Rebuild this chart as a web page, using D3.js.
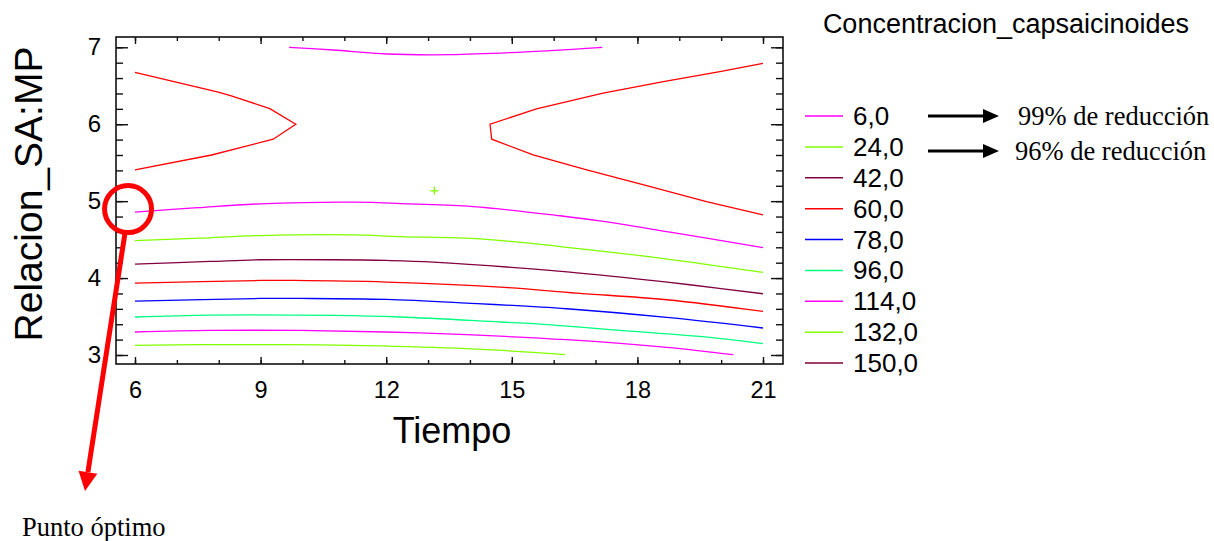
<!DOCTYPE html>
<html>
<head>
<meta charset="utf-8">
<script src="https://cdn.jsdelivr.net/npm/d3@7"></script>
<style>
  html, body { margin: 0; padding: 0; background: #fff; }
  svg { display: block; }
  text { font-family: "Liberation Sans", Arial, sans-serif; fill: #000; }
  .serif { font-family: "Liberation Serif", "Times New Roman", serif; }
</style>
</head>
<body>
<svg id="chart" width="1214" height="541"></svg>
<script>
// ---------------- DATA ----------------
const xTicksMajor = [6, 9, 12, 15, 18, 21];
const yTicksMajor = [3, 4, 5, 6, 7];
const legendLevels = ["6,0", "24,0", "42,0", "60,0", "78,0", "96,0", "114,0", "132,0", "150,0"];
const levelColors = ["#ff00ff", "#80ff00", "#800040", "#ff0000", "#0000ff", "#00ff80", "#ff00ff", "#80ff00", "#800040"];

// contour lines [Tiempo, Relacion_SA:MP]
const contourTop = [[9.68,7.0],[10.73,6.965],[12.02,6.913],[13.52,6.904],[14.96,6.93],[17.16,7.0]];
const chevronLeft = [[6,6.675],[7.99,6.416],[8.3,6.37],[9.22,6.203],[9.84,6.0],[9.3,5.805],[7.83,5.60],[6,5.406]];
const chevronRight = [[21,6.792],[19.97,6.683],[18.62,6.553],[17.18,6.403],[15.59,6.199],[14.48,6.0],[14.52,5.805],[15.51,5.601],[16.79,5.406],[18.22,5.203],[19.65,4.995],[21,4.822]];
const contour6 = [[6,4.857],[7.5,4.915],[8.99,4.965],[11.21,4.987],[12.57,4.965],[14.08,4.93],[16.15,4.81],[17.1,4.744],[18.78,4.597],[21,4.397]];
const contour24 = [[6,4.488],[7.55,4.519],[8.99,4.553],[11.21,4.562],[12.33,4.54],[14.24,4.51],[16.15,4.41],[18.54,4.26],[21,4.073]];
const contour42 = [[6,4.182],[7.79,4.216],[8.99,4.238],[10.74,4.238],[12,4.229],[13.12,4.208],[15.91,4.099],[17.98,3.99],[19.25,3.913],[21,3.796]];
const contour60 = [[6,3.935],[8.99,3.969],[9.8,3.969],[12,3.948],[14.72,3.883],[16.55,3.805],[18.7,3.718],[21,3.566]];
const contour78 = [[6,3.701],[8.99,3.735],[9.94,3.735],[12,3.722],[13.92,3.675],[16.31,3.601],[18.7,3.488],[21,3.351]];
const contour96 = [[6,3.494],[7.79,3.519],[10.74,3.514],[12.33,3.494],[14.72,3.429],[15.51,3.407],[17.9,3.306],[19.49,3.242],[21,3.147]];
const contour114 = [[6,3.299],[7.79,3.319],[9.94,3.319],[12,3.299],[13.92,3.264],[16.31,3.199],[18.7,3.1],[20.29,3.004]];
const contour132 = [[6,3.125],[7.55,3.134],[9.62,3.134],[11.53,3.121],[13.92,3.082],[15.51,3.034],[16.27,3.004]];
const centerPoint = [13.15, 5.134];
const optimumPoint = [5.81, 4.91];

const contours = [
  { pts: contourTop, color: levelColors[0], smooth: true },
  { pts: chevronLeft, color: levelColors[3], smooth: false },
  { pts: chevronRight, color: levelColors[3], smooth: false },
  { pts: contour6, color: levelColors[0], smooth: true },
  { pts: contour24, color: levelColors[1], smooth: true },
  { pts: contour42, color: levelColors[2], smooth: true },
  { pts: contour60, color: levelColors[3], smooth: true },
  { pts: contour78, color: levelColors[4], smooth: true },
  { pts: contour96, color: levelColors[5], smooth: true },
  { pts: contour114, color: levelColors[6], smooth: true },
  { pts: contour132, color: levelColors[7], smooth: true }
];

// ---------------- LAYOUT ----------------
const svg = d3.select("#chart");
const frame = { left: 116, right: 783, top: 37, bottom: 364 };
const x = d3.scaleLinear().domain([6, 21]).range([135, 763]);
const y = d3.scaleLinear().domain([3, 7]).range([355, 47.3]);

// contour lines
const lineLin = d3.line().x(d => x(d[0])).y(d => y(d[1]));
const lineSmooth = d3.line().x(d => x(d[0])).y(d => y(d[1])).curve(d3.curveCatmullRom.alpha(0.5));
svg.append("g").selectAll("path").data(contours).join("path")
  .attr("d", d => (d.smooth ? lineSmooth : lineLin)(d.pts))
  .attr("fill", "none")
  .attr("stroke", d => d.color)
  .attr("stroke-width", 1.3);

// center "+"
const cp = svg.append("g").attr("stroke", levelColors[1]).attr("stroke-width", 1.3);
cp.append("line").attr("x1", x(centerPoint[0]) - 4).attr("x2", x(centerPoint[0]) + 4)
  .attr("y1", y(centerPoint[1])).attr("y2", y(centerPoint[1]));
cp.append("line").attr("x1", x(centerPoint[0])).attr("x2", x(centerPoint[0]))
  .attr("y1", y(centerPoint[1]) - 4).attr("y2", y(centerPoint[1]) + 4);

// frame
svg.append("rect")
  .attr("x", frame.left).attr("y", frame.top)
  .attr("width", frame.right - frame.left).attr("height", frame.bottom - frame.top)
  .attr("fill", "none").attr("stroke", "#111").attr("stroke-width", 1.6);

const xMinor = d3.range(6, 21.001, 1);
const yMinor = d3.range(3, 7.001, 0.2);

function styleAxis(g) {
  g.select(".domain").remove();
  g.selectAll(".tick line").attr("stroke", "#111").attr("stroke-width", 1.4);
}

// bottom axis
svg.append("g").attr("transform", `translate(0,${frame.bottom})`)
  .call(d3.axisBottom(x).tickValues(xMinor).tickSize(-4).tickFormat("")).call(styleAxis);
svg.append("g").attr("transform", `translate(0,${frame.bottom})`)
  .call(d3.axisBottom(x).tickValues(xTicksMajor).tickSize(-7).tickPadding(17).tickFormat(d3.format("d")))
  .call(styleAxis)
  .selectAll("text").style("font-size", "23.5px").attr("fill", "#000");
// top axis
svg.append("g").attr("transform", `translate(0,${frame.top})`)
  .call(d3.axisTop(x).tickValues(xMinor).tickSize(-4).tickFormat("")).call(styleAxis);
svg.append("g").attr("transform", `translate(0,${frame.top})`)
  .call(d3.axisTop(x).tickValues(xTicksMajor).tickSize(-7).tickFormat("")).call(styleAxis);
// left axis
svg.append("g").attr("transform", `translate(${frame.left},0)`)
  .call(d3.axisLeft(y).tickValues(yMinor).tickSize(-7).tickFormat("")).call(styleAxis);
svg.append("g").attr("transform", `translate(${frame.left},0)`)
  .call(d3.axisLeft(y).tickValues(yTicksMajor).tickSize(-12).tickPadding(15).tickFormat(d3.format("d")))
  .call(styleAxis)
  .selectAll("text").style("font-size", "24px").attr("fill", "#000");
// right axis
svg.append("g").attr("transform", `translate(${frame.right},0)`)
  .call(d3.axisRight(y).tickValues(yMinor).tickSize(-7).tickFormat("")).call(styleAxis);
svg.append("g").attr("transform", `translate(${frame.right},0)`)
  .call(d3.axisRight(y).tickValues(yTicksMajor).tickSize(-12).tickFormat("")).call(styleAxis);

// axis titles
svg.append("text").attr("x", 452).attr("y", 443).attr("text-anchor", "middle")
  .style("font-size", "36px").text("Tiempo");
svg.append("text").attr("transform", "translate(42,194) rotate(-90)").attr("text-anchor", "middle")
  .style("font-size", "39px").text("Relacion_SA:MP");

// legend
svg.append("text").attr("x", 1006).attr("y", 33).attr("text-anchor", "middle")
  .style("font-size", "27px").text("Concentracion_capsaicinoides");
const legendY = d3.scaleLinear().domain([0, legendLevels.length - 1]).range([116, 363]);
const lg = svg.append("g").selectAll("g").data(legendLevels).join("g")
  .attr("transform", (d, i) => `translate(0,${legendY(i)})`);
lg.append("line").attr("x1", 805).attr("x2", 843).attr("y1", 0).attr("y2", 0)
  .attr("stroke", (d, i) => levelColors[i]).attr("stroke-width", 1.5);
lg.append("text").attr("x", 853).attr("y", 9).style("font-size", "26px").text(d => d);

// black arrows with notes
const notes = [
  { text: "99% de reducción", row: 0, dy: 0, tx: 1018 },
  { text: "96% de reducción", row: 1, dy: 4, tx: 1015 }
];
const ng = svg.append("g").selectAll("g").data(notes).join("g")
  .attr("transform", d => `translate(0,${legendY(d.row) + d.dy})`);
ng.append("line").attr("x1", 928).attr("x2", 985).attr("y1", 0).attr("y2", 0)
  .attr("stroke", "#000").attr("stroke-width", 3);
ng.append("path").attr("d", "M983,-7 L999,0 L983,7 Z").attr("fill", "#000");
ng.append("text").attr("class", "serif").attr("x", d => d.tx).attr("y", 9)
  .style("font-size", "26.5px").text(d => d.text);

// optimum annotation
const ox = x(optimumPoint[0]), oy = y(optimumPoint[1]);
svg.append("circle").attr("cx", ox + 1).attr("cy", oy + 1).attr("r", 23.5)
  .attr("fill", "none").attr("stroke", "#ff0000").attr("stroke-width", 5);
const tip = [85, 491];
const start = [125, 233];
const ang = Math.atan2(tip[1] - start[1], tip[0] - start[0]);
const headLen = 19, headHalf = 9.5;
const base = [tip[0] - headLen * Math.cos(ang), tip[1] - headLen * Math.sin(ang)];
svg.append("line").attr("x1", start[0]).attr("y1", start[1]).attr("x2", base[0]).attr("y2", base[1])
  .attr("stroke", "#ff0000").attr("stroke-width", 5);
const px = -Math.sin(ang), py = Math.cos(ang);
svg.append("path").attr("d",
  `M${tip[0]},${tip[1]} L${base[0] + px * headHalf},${base[1] + py * headHalf} L${base[0] - px * headHalf},${base[1] - py * headHalf} Z`)
  .attr("fill", "#ff0000");
svg.append("text").attr("class", "serif").attr("x", 22).attr("y", 536)
  .style("font-size", "26.5px").text("Punto óptimo");
</script>
</body>
</html>
